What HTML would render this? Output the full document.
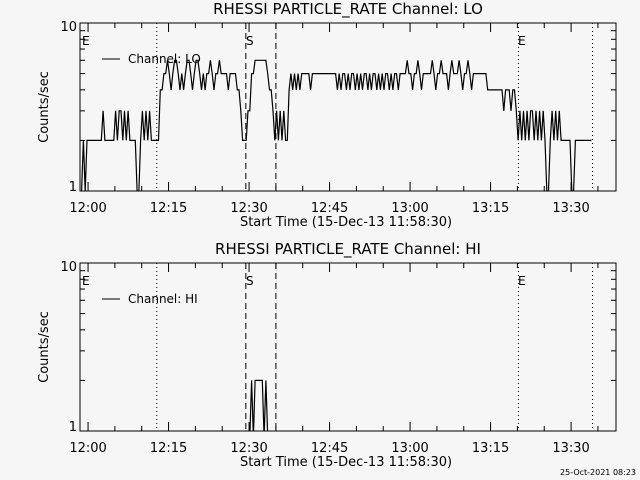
<!DOCTYPE html>
<html><head><meta charset="utf-8"><style>
html,body{margin:0;padding:0;background:#f6f6f6;overflow:hidden;width:640px;height:480px;}
svg{display:block;font-family:"DejaVu Sans","Liberation Sans",sans-serif;}
</style></head><body>
<svg id="chart" width="640" height="480" viewBox="0 0 640 480" xmlns="http://www.w3.org/2000/svg">
<rect width="640" height="480" fill="#f6f6f6"/>
</svg>
<script>
// data: counts per 20-second bin starting 11:58:30
const binMinutes = 1/3;
const loCounts = ("121"+"222222222"+"3"+"222222"+"32332323"+"2222"+"11"+"232323"+"22222"+"445"+
 "5654566545456654566545455654556"+"5555455554"+"43222"+"335"+"56666666"+"5443"+"23232322"+"4545454"+
 "55555455555555555555"+"454554545545454554545545454554545545"+"55565545565455555"+
 "6545565554565556545565455555555"+"444444444"+"34443443"+"2323232332323232"+"11"+"23232322"+"2222"+"11"+"2222222222").split("").map(Number);
const hiStartBin = 94;
const hiCounts = [0,2,0,2,2,2,2,2,0,2,0];
const xTickLabels = ["12:00","12:15","12:30","12:45","13:00","13:15","13:30"];
const xTickMinutes = [1.5,16.5,31.5,46.5,61.5,76.5,91.5];
const markerMinutes = [14.3,30.9,36.5,81.7,95.5];
const markerStyles = ["dot","dash","dash","dot","dot"];
const panels = [
 {top:23,bottom:191,title:"RHESSI PARTICLE_RATE Channel: LO",legend:"Channel: LO",name:"lo"},
 {top:263,bottom:431,title:"RHESSI PARTICLE_RATE Channel: HI",legend:"Channel: HI",name:"hi"}
];
const L=80, R=616, totalMin=(R-L)/5.367;
const svg=document.getElementById('chart');
const NS="http://www.w3.org/2000/svg";
function el(tag,attrs,parent){const e=document.createElementNS(NS,tag);for(const k in attrs)e.setAttribute(k,attrs[k]);(parent||svg).appendChild(e);return e;}
function xs(m){return L+m*(R-L)/totalMin;}
panels.forEach((p,pi)=>{
 const ys=v=>v<=0?p.bottom+6:p.bottom-Math.log10(v)*(p.bottom-p.top);
 const g=el('g',{});
 
 
 const cp=el('clipPath',{id:'clip'+pi},g);
 el('rect',{x:L,y:p.top,width:R-L,height:p.bottom-p.top},cp);
 const t=el('text',{x:348,y:p.top-9,'text-anchor':'middle','font-size':'15'},g);t.textContent=p.title;
 
 
 el('rect',{x:L,y:p.top,width:R-L,height:p.bottom-p.top,fill:'none',stroke:'#000','stroke-width':1},g);
 for(let v=1;v<=10;v++){const y=ys(v);const len=(v===1||v===10)?9:5;
  el('line',{x1:L,x2:L+len,y1:y,y2:y,stroke:'#000'},g);el('line',{x1:R,x2:R-len,y1:y,y2:y,stroke:'#000'},g);}
 const t10=el('text',{x:77,y:p.top+8,'text-anchor':'end','font-size':'13'},g);t10.textContent='10';
 
 
 const t1=el('text',{x:77,y:p.bottom+0,'text-anchor':'end','font-size':'13'},g);t1.textContent='1';
 
 
 const yl=el('text',{x:0,y:0,'text-anchor':'middle','font-size':'13',transform:`translate(48,${(p.top+p.bottom)/2}) rotate(-90)`},g);yl.textContent='Counts/sec';
 
 
 for(let m=1.5;m<totalMin;m+=5){const x=xs(m);const major=Math.abs(((m-1.5)%15))<0.01;const len=major?9:5;
  el('line',{x1:x,x2:x,y1:p.bottom,y2:p.bottom-len,stroke:'#000'},g);el('line',{x1:x,x2:x,y1:p.top,y2:p.top+len,stroke:'#000'},g);}
 xTickLabels.forEach((lab,i)=>{const tx=el('text',{x:xs(xTickMinutes[i]),y:p.bottom+21,'text-anchor':'middle','font-size':'13'},g);tx.textContent=lab;
  
  });
 const xt=el('text',{x:346,y:p.bottom+35,'text-anchor':'middle','font-size':'13'},g);xt.textContent='Start Time (15-Dec-13 11:58:30)';
 
 
 markerMinutes.forEach((m,i)=>{const x=xs(m);
  const ln=el('line',{x1:x,x2:x,y1:p.top,y2:p.bottom,stroke:'#000','stroke-dasharray':markerStyles[i]==='dot'?'1,3':'6,4'},g);
  
  });
 [['E',82],['S',246],['E',518]].forEach(([s,x])=>{const tt=el('text',{x:x,y:p.top+22,'font-size':'12'},g);tt.textContent=s;
  
  });
 el('line',{x1:102,x2:120,y1:p.top+36,y2:p.top+36,stroke:'#000'},g);
 const lt=el('text',{x:128,y:p.top+40,'font-size':'12'},g);lt.textContent=p.legend;
 
 
 const vals=pi===0?loCounts:hiCounts;const start=pi===0?0:hiStartBin;
 const pts=vals.map((v,i)=>xs((start+i)*binMinutes+0.3).toFixed(1)+','+ys(v).toFixed(1)).join(' ');
 const pl=el('polyline',{points:pts,fill:'none',stroke:'#000','stroke-width':1.2,'clip-path':`url(#clip${pi})`},g);
 
 
});
const ft=el('text',{x:636,y:475,'text-anchor':'end','font-size':'8'});ft.textContent='25-Oct-2021 08:23';


</script>
</body></html>
